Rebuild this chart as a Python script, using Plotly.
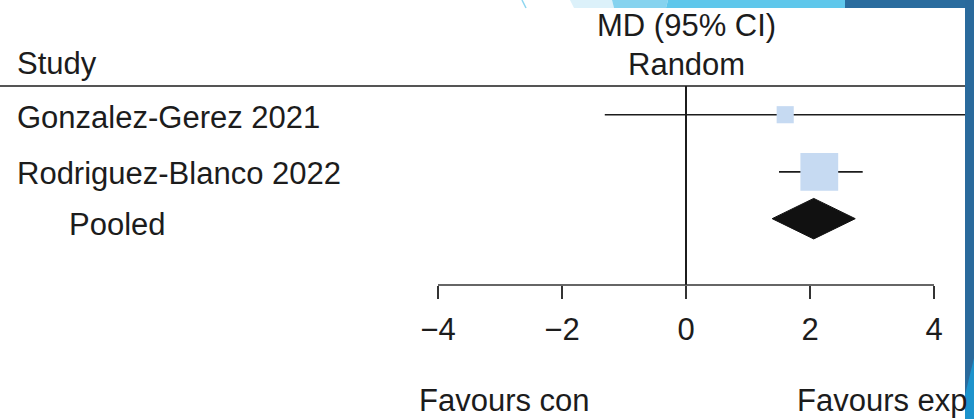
import plotly.graph_objects as go

# data
studies = ["Gonzalez-Gerez 2021", "Rodriguez-Blanco 2022"]
md = [1.60, 2.15]
ci_low = [-1.31, 1.50]
ci_high = [4.50, 2.85]
weights = [17, 83]          # % weight, drives square size

pooled_md = 2.06
pooled_low = 1.39
pooled_high = 2.73

ticks = [-4, -2, 0, 2, 4]

# layout helpers (pixels of the 974x419 canvas)
W, H = 974, 419
PX_PER_UNIT = 62
X0_PX = 686
row_y = [0, 1.1]            # study rows
pooled_y = 2.0
diamond_half = 0.39
FONT = "Liberation Sans, Arial, sans-serif"
INK = "#1c1c1c"
BOX = "#c6daf2"


def py(px):
    return 1 - px / H


fig = go.Figure()

# confidence interval lines
ci_x, ci_y = [], []
for lo, hi, r in zip(ci_low, ci_high, row_y):
    ci_x += [lo, hi, None]
    ci_y += [r, r, None]
fig.add_trace(go.Scatter(
    x=ci_x, y=ci_y, mode="lines",
    line=dict(color=INK, width=1.6),
    hoverinfo="skip", showlegend=False,
))

# study estimates (square size ~ weight)
fig.add_trace(go.Scatter(
    x=md, y=row_y, mode="markers",
    marker=dict(symbol="square", color=BOX, opacity=1,
                size=[4.15 * w ** 0.5 for w in weights], line=dict(width=0)),
    hoverinfo="skip", showlegend=False,
))

# pooled diamond
fig.add_trace(go.Scatter(
    x=[pooled_low, pooled_md, pooled_high, pooled_md, pooled_low],
    y=[pooled_y, pooled_y - diamond_half, pooled_y, pooled_y + diamond_half, pooled_y],
    mode="lines", fill="toself", fillcolor="#111111",
    line=dict(color="#111111", width=1),
    hoverinfo="skip", showlegend=False,
))

fig.update_xaxes(
    range=[-X0_PX / PX_PER_UNIT, (W - X0_PX) / PX_PER_UNIT],
    domain=[0, 1],
    tickvals=ticks,
    ticktext=[f"\u2212{abs(t)}" if t < 0 else str(t) for t in ticks],
    ticks="outside", ticklen=13, tickwidth=1.6, tickcolor="#333333",
    ticklabelstandoff=4,
    tickfont=dict(family=FONT, size=31, color=INK),
    showgrid=False, showline=False,
    zeroline=True, zerolinecolor=INK, zerolinewidth=1.6,
    automargin=False, fixedrange=True,
)
fig.update_yaxes(
    range=[172 / 52.5, -29 / 52.5],
    domain=[py(285), py(86)],
    showticklabels=False, showgrid=False, zeroline=False, showline=False,
    automargin=False, fixedrange=True,
)

shapes = [
    # header rule
    dict(type="line", xref="paper", yref="paper", x0=0, x1=965 / W,
         y0=py(86), y1=py(86), line=dict(color=INK, width=1.6)),
    # axis baseline between -4 and 4
    dict(type="line", xref="x", yref="y domain", x0=ticks[0], x1=ticks[-1],
         y0=0, y1=0, line=dict(color="#333333", width=1.6)),
    # slide decoration: top band
    dict(type="path", xref="paper", yref="paper", layer="above", line=dict(width=0),
         fillcolor="#dcf1fa",
         path=f"M {570/W} 1 L {612/W} 1 L {614/W} {py(8)} L {574/W} {py(8)} Z"),
    dict(type="path", xref="paper", yref="paper", layer="above", line=dict(width=0),
         fillcolor="#86d3ef",
         path=f"M {612/W} 1 L {668/W} 1 L {666/W} {py(8)} L {614/W} {py(8)} Z"),
    dict(type="path", xref="paper", yref="paper", layer="above", line=dict(width=0),
         fillcolor="#5fc7eb",
         path=f"M {668/W} 1 L {845/W} 1 L {845/W} {py(8)} L {666/W} {py(8)} Z"),
    dict(type="rect", xref="paper", yref="paper", layer="above", line=dict(width=0),
         fillcolor="#2a6c9e", x0=845 / W, x1=1, y0=py(8), y1=1),
    dict(type="line", xref="paper", yref="paper", layer="above",
         x0=522 / W, x1=526 / W, y0=1, y1=py(8), line=dict(color="#8fd6f0", width=1.5)),
    # slide decoration: right strip
    dict(type="rect", xref="paper", yref="paper", layer="above", line=dict(width=0),
         fillcolor="#2a6a9c", x0=965 / W, x1=1, y0=0, y1=1),
    dict(type="path", xref="paper", yref="paper", layer="above", line=dict(width=0),
         fillcolor="#1d93cc",
         path=f"M {965/W} {py(395)} L 1 {py(358)} L 1 0 L {965/W} 0 Z"),
]


def label(text, x_px, y_px, anchor="left"):
    return dict(text=text, xref="paper", yref="paper", x=x_px / W, y=py(y_px),
                xanchor=anchor, yanchor="middle", showarrow=False,
                font=dict(family=FONT, size=31, color=INK))


annotations = [
    label("Study", 15, 63),
    label("MD (95% CI)", X0_PX, 26, "center"),
    label("Random", X0_PX, 64, "center"),
    label(studies[0], 15, 117),
    label(studies[1], 15, 173),
    label("Pooled", 67, 224),
    label("Favours con", 417, 400),
    label("Favours exp", 795, 400),
]

fig.update_layout(
    width=W, height=H,
    margin=dict(l=0, r=0, t=0, b=0),
    paper_bgcolor="white", plot_bgcolor="white",
    shapes=shapes, annotations=annotations,
    showlegend=False,
)

fig.write_html("out.html", config={"displayModeBar": False},
               post_script="document.body.style.margin='0';")
